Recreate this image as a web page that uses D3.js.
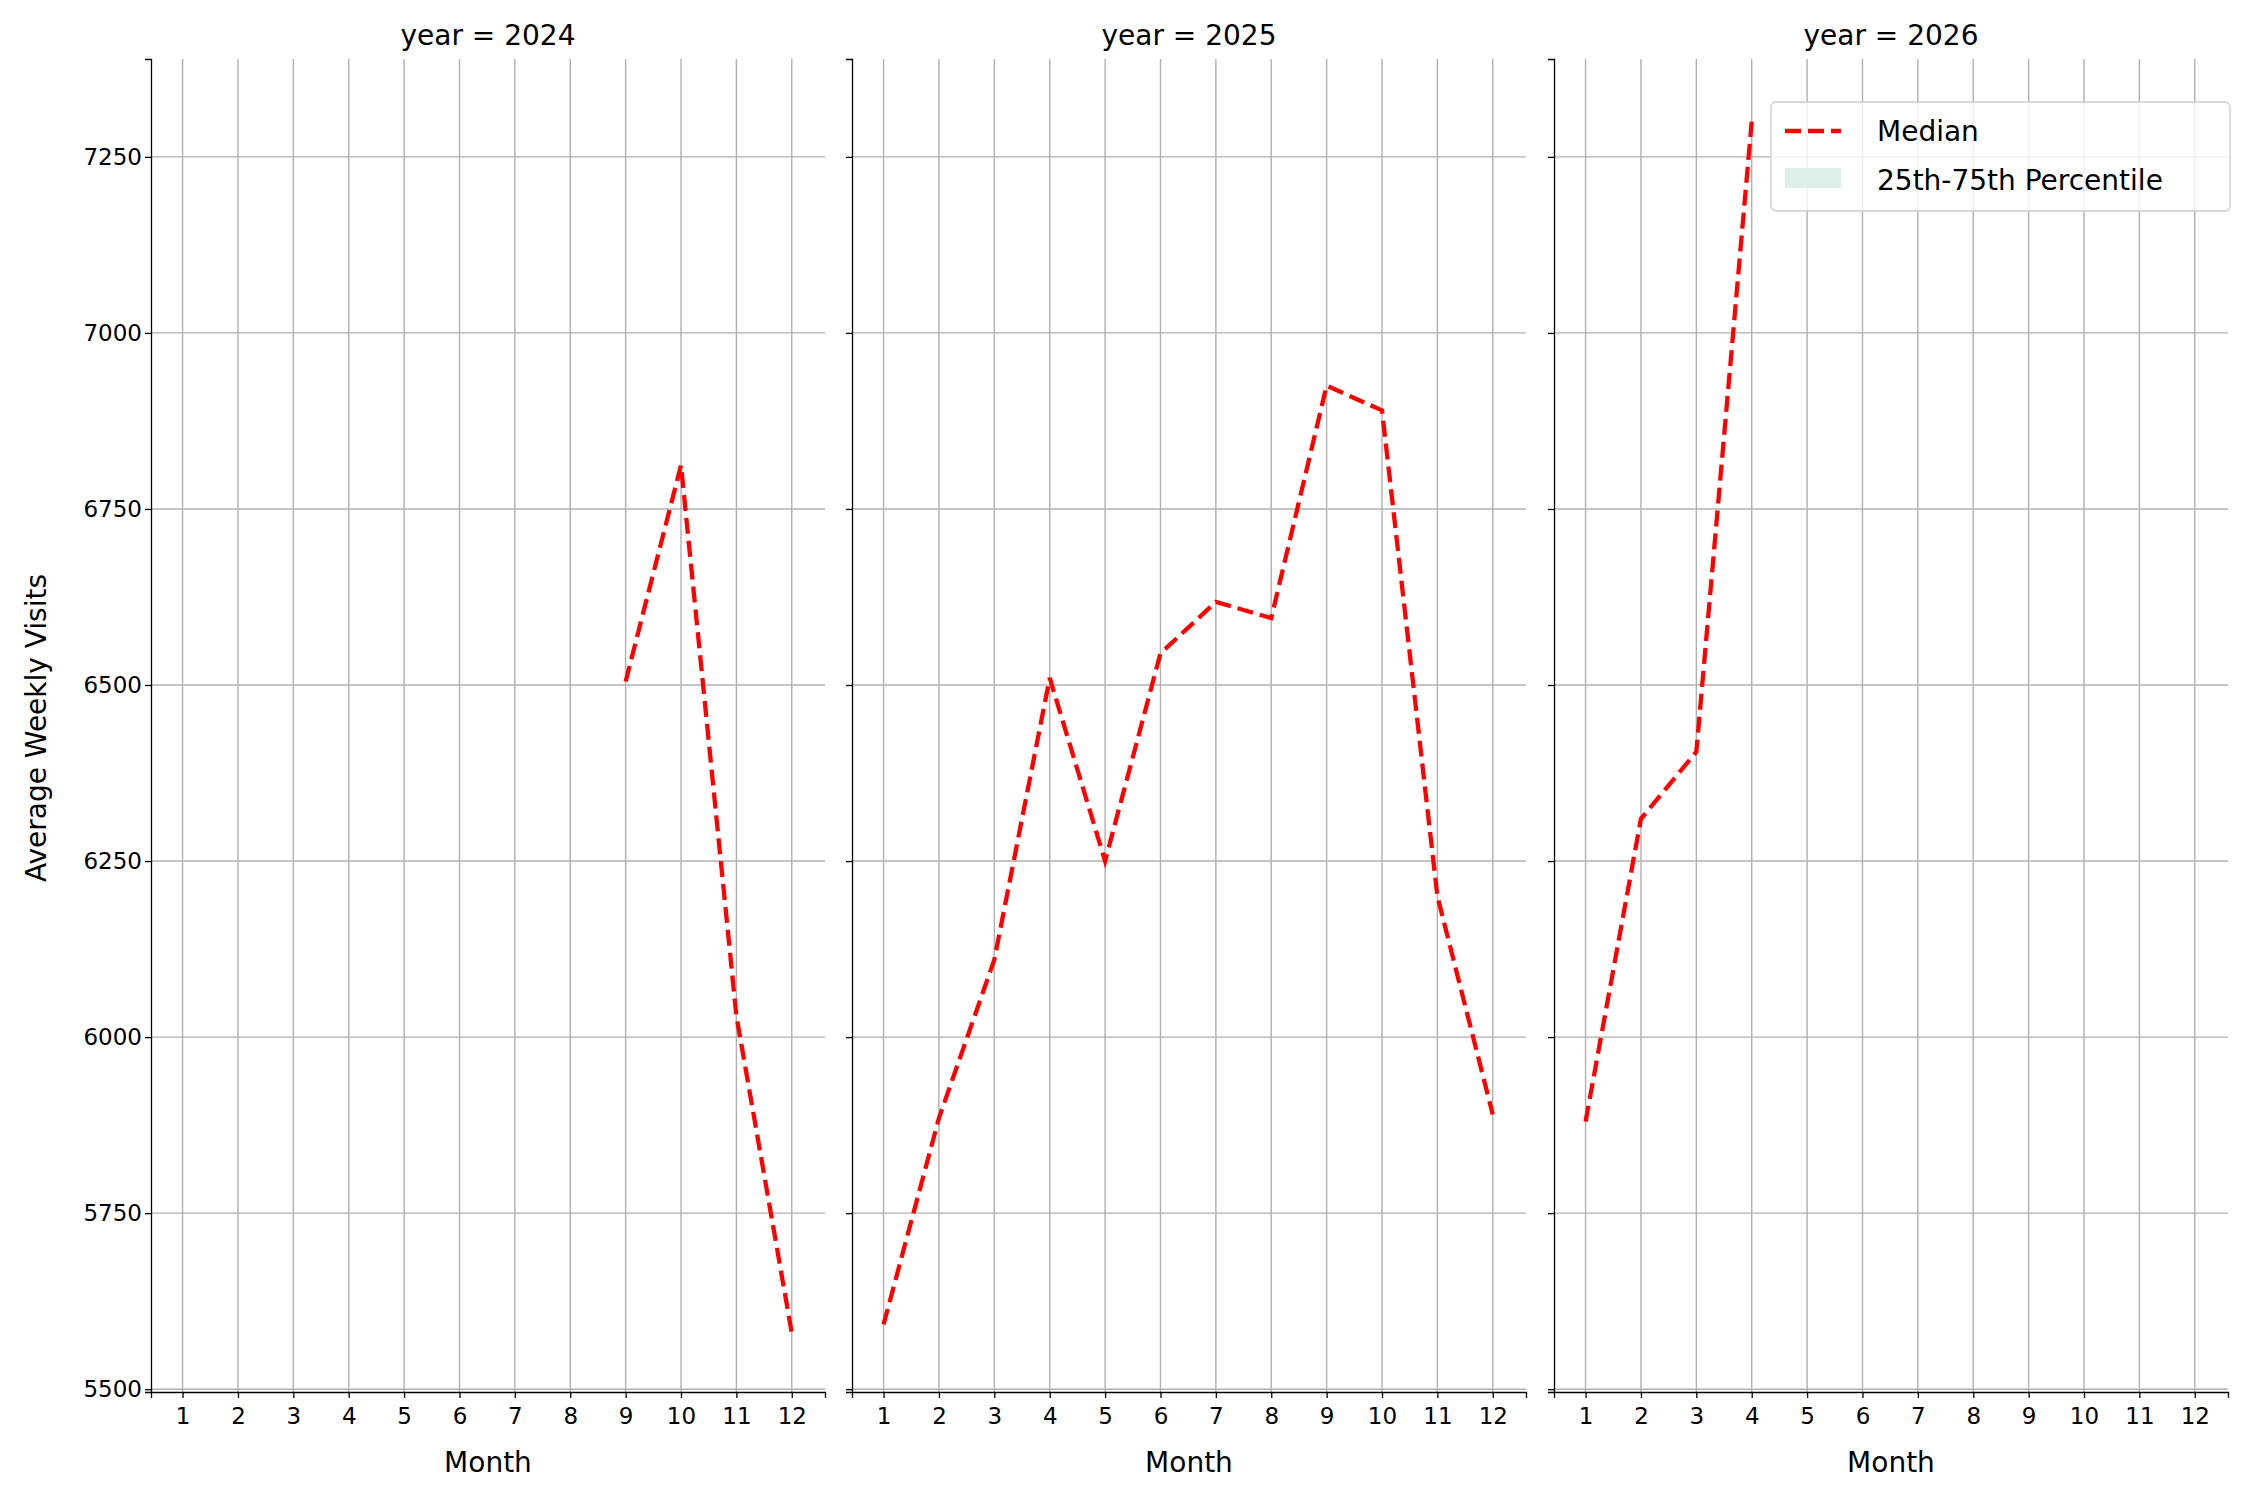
<!DOCTYPE html><html><head><meta charset="utf-8"><script src="https://cdn.jsdelivr.net/npm/d3@7"></script>
<style>body{margin:0;background:#fff}text{font-family:"DejaVu Sans",sans-serif}</style></head><body><svg id="c" width="2250" height="1500"></svg><script>
const years=[2024,2025,2026];
const months=[1,2,3,4,5,6,7,8,9,10,11,12];
const yTicks=[5500,5750,6000,6250,6500,6750,7000,7250];
const median2024=[[9,6505],[10,6812],[11,6030],[12,5580]];
const median2025=[[1,5592],[2,5885],[3,6110],[4,6510],[5,6250],[6,6545],[7,6618],[8,6595],[9,6925],[10,6890],[11,6200],[12,5890]];
const median2026=[[1,5880],[2,6310],[3,6405],[4,7300]];
const series=[median2024,median2025,median2026];
const svg=d3.select("#c");
const lefts=[151,852,1554],W=674,pTop=59,pBot=1392;
const y=d3.scaleLinear().domain([5496,7389]).range([pBot,pTop]);
years.forEach((yr,i)=>{
 const x=d3.scaleLinear().domain([0.43,12.6]).range([lefts[i],lefts[i]+W]);
 const g=svg.append("g");
 months.forEach(m=>g.append("line").attr("x1",x(m)).attr("x2",x(m)).attr("y1",pTop).attr("y2",pBot).attr("stroke","#b0b0b0").attr("stroke-width",1.4));
 yTicks.forEach(t=>g.append("line").attr("x1",lefts[i]).attr("x2",lefts[i]+W).attr("y1",y(t)).attr("y2",y(t)).attr("stroke","#b0b0b0").attr("stroke-width",1.4));
 const xa=g.append("g").attr("transform",`translate(0,${pBot})`).call(d3.axisBottom(x).tickValues(months).tickSize(6).tickFormat(d3.format("d")));
 const ya=g.append("g").attr("transform",`translate(${lefts[i]},0)`).call(d3.axisLeft(y).tickValues(yTicks).tickSize(6).tickFormat(i==0?d3.format("d"):""));
 [xa,ya].forEach(a=>{a.selectAll("text").attr("font-size",23).attr("fill","#000");a.select(".domain").attr("stroke","#000").attr("stroke-width",1.3);a.selectAll(".tick line").attr("stroke","#000").attr("stroke-width",1.3);});
 xa.selectAll("text").attr("dy","1.0em");
 g.append("path").datum(series[i]).attr("fill","none").attr("stroke","#ff0000").attr("stroke-width",4.3).attr("stroke-dasharray","16,7")
  .attr("d",d3.line().x(d=>x(d[0])).y(d=>y(d[1])));
 g.append("text").attr("x",lefts[i]+W/2).attr("y",45).attr("text-anchor","middle").attr("font-size",28).text(`year = ${yr}`);
 g.append("text").attr("x",lefts[i]+W/2).attr("y",1472).attr("text-anchor","middle").attr("font-size",28).text("Month");
});
svg.append("text").attr("transform","translate(46,728) rotate(-90)").attr("text-anchor","middle").attr("font-size",28).text("Average Weekly Visits");
const lg=svg.append("g").attr("transform","translate(1771,102)");
lg.append("rect").attr("width",459).attr("height",109).attr("rx",5).attr("fill","#fff").attr("fill-opacity",0.8).attr("stroke","#ccc").attr("stroke-width",1.3);
lg.append("line").attr("x1",14).attr("x2",70).attr("y1",29).attr("y2",29).attr("stroke","#ff0000").attr("stroke-width",4.3).attr("stroke-dasharray","16,7");
lg.append("rect").attr("x",14).attr("y",66).attr("width",56).attr("height",20).attr("fill","#dcefe9");
lg.append("text").attr("x",106).attr("y",39).attr("font-size",28).text("Median");
lg.append("text").attr("x",106).attr("y",88).attr("font-size",28).text("25th-75th Percentile");
</script></body></html>
